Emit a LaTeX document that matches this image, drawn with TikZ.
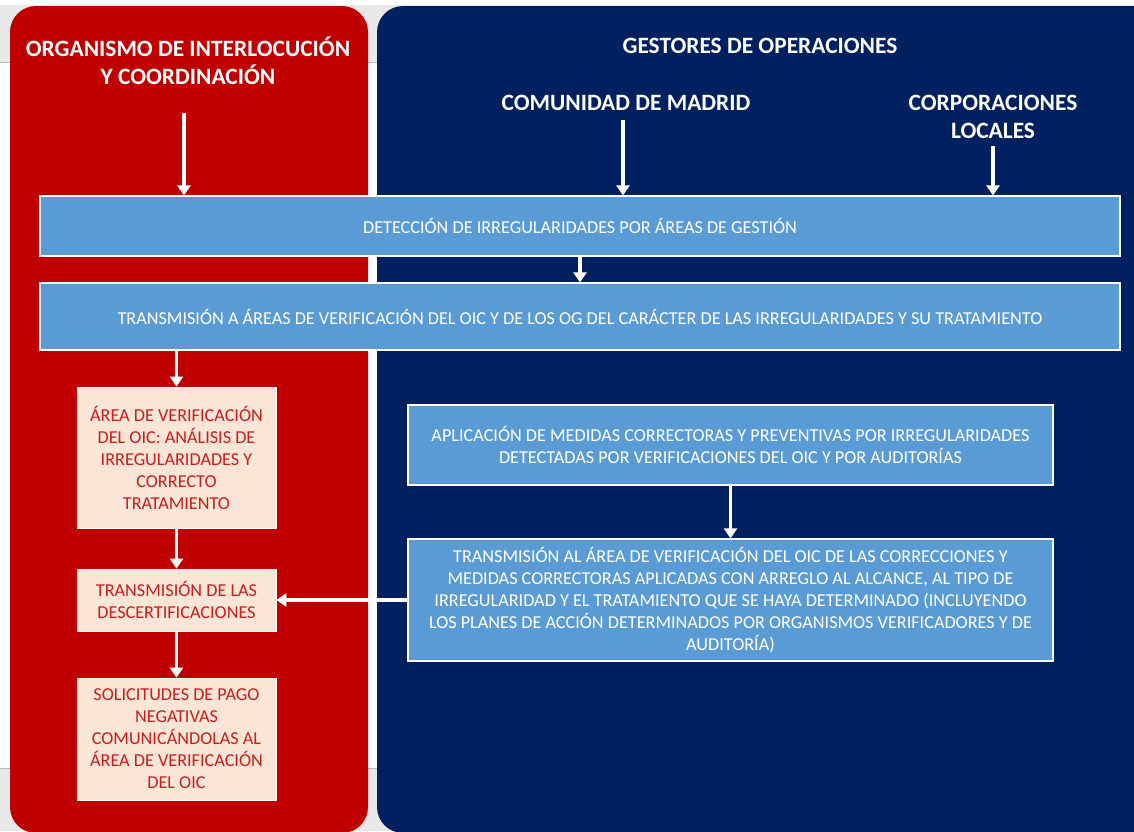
\documentclass[tikz,border=0pt]{standalone}
\usepackage{fontspec}
\setmainfont{Carlito}
\usetikzlibrary{arrows.meta}
\definecolor{oicred}{HTML}{C00000}
\definecolor{gonavy}{HTML}{002060}
\definecolor{boxblue}{HTML}{5B9BD5}
\definecolor{peach}{HTML}{FBE5D6}
\definecolor{peachtext}{HTML}{C81E1E}
\definecolor{bandgray}{HTML}{E8E8E8}
\tikzset{
  head/.style={text=white, font=\fontsize{23.4}{28}\selectfont\bfseries, align=center, inner sep=0pt},
  bluebox/.style={draw=white, line width=1.2pt, fill=boxblue, text=white,
    font=\fontsize{18.2}{22}\selectfont, align=center, inner sep=0pt},
  peachbox/.style={draw=white, line width=0.8pt, fill=peach, text=peachtext,
    font=\fontsize{18.2}{22}\selectfont, align=center, inner sep=0pt,
    minimum width=199pt},
  flow/.style={draw=white, line width=3.1pt, -{Triangle[width=13pt,length=10pt]}},
}
\begin{document}
\begin{tikzpicture}[x=1pt,y=-1pt]
\useasboundingbox (0,0) rectangle (1134,831);
\begin{scope}
\clip (0,0) rectangle (1134,831);
% page backdrop with grey bands
\fill[white] (0,0) rectangle (1134,831);
\fill[bandgray] (0,5) rectangle (1134,62);
\draw[gray!55, line width=0.8pt] (0,62) -- (1134,62);
\fill[bandgray] (0,768) rectangle (1134,831);
\draw[gray!55, line width=0.8pt] (0,768) -- (1134,768);
% the two column panels
\fill[oicred, rounded corners=26pt] (10,6) rectangle (368,833);
\fill[gonavy, rounded corners=26pt] (377,6) rectangle (1180,833);
\end{scope}

% column headings
\node[head] (oic) at (188,61) {ORGANISMO DE INTERLOCUCIÓN\\Y COORDINACIÓN};
\node[head] (gest) at (760,45.5) {GESTORES DE OPERACIONES};
\node[head] (cam) at (626,102.5) {COMUNIDAD DE MADRID};
\node[head] (ccll) at (993,116.5) {CORPORACIONES\\LOCALES};

% process boxes
\node[bluebox, minimum width=1080pt, minimum height=60pt] (det) at (580,226)
  {DETECCIÓN DE IRREGULARIDADES POR ÁREAS DE GESTIÓN};
\node[bluebox, minimum width=1080pt, minimum height=67pt] (trans) at (580,316.5)
  {TRANSMISIÓN A ÁREAS DE VERIFICACIÓN DEL OIC Y DE LOS OG DEL CARÁCTER DE LAS IRREGULARIDADES Y SU TRATAMIENTO};

\node[peachbox, minimum height=141pt] (verif) at (176.5,457.5)
  {ÁREA DE VERIFICACIÓN\\DEL OIC: ANÁLISIS DE\\IRREGULARIDADES Y\\CORRECTO\\TRATAMIENTO};
\node[peachbox, minimum height=62pt] (desc) at (176.5,600)
  {TRANSMISIÓN DE LAS\\DESCERTIFICACIONES};
\node[peachbox, minimum height=122pt] (solic) at (176.5,739)
  {SOLICITUDES DE PAGO\\NEGATIVAS\\COMUNICÁNDOLAS AL\\ÁREA DE VERIFICACIÓN\\DEL OIC};

\node[bluebox, minimum width=645pt, minimum height=80pt] (aplic) at (730.5,445)
  {APLICACIÓN DE MEDIDAS CORRECTORAS Y PREVENTIVAS POR IRREGULARIDADES\\
   DETECTADAS POR VERIFICACIONES DEL OIC Y POR AUDITORÍAS};
\node[bluebox, minimum width=645pt, minimum height=122pt] (trcor) at (730.5,600)
  {TRANSMISIÓN AL ÁREA DE VERIFICACIÓN DEL OIC DE LAS CORRECCIONES Y\\
   MEDIDAS CORRECTORAS APLICADAS CON ARREGLO AL ALCANCE, AL TIPO DE\\
   IRREGULARIDAD Y EL TRATAMIENTO QUE SE HAYA DETERMINADO (INCLUYENDO\\
   LOS PLANES DE ACCIÓN DETERMINADOS POR ORGANISMOS VERIFICADORES Y DE\\
   AUDITORÍA)};

% arrow start points below the headings
\coordinate (oicout) at (184,113);
\coordinate (camout) at (623,120);
\coordinate (ccllout) at (993,146);

% connectors
\draw[flow] (oicout) -- (oicout |- det.north);
\draw[flow] (camout) -- (camout |- det.north);
\draw[flow] (ccllout) -- (ccllout |- det.north);
\draw[flow] (det.south) -- (trans.north);
\draw[flow] (verif.north |- trans.south) -- (verif.north);
\draw[flow] (verif) -- (desc);
\draw[flow] (desc) -- (solic);
\draw[flow] (aplic) -- (trcor);
\draw[flow] (trcor.west) -- (desc.east);
\end{tikzpicture}
\end{document}
